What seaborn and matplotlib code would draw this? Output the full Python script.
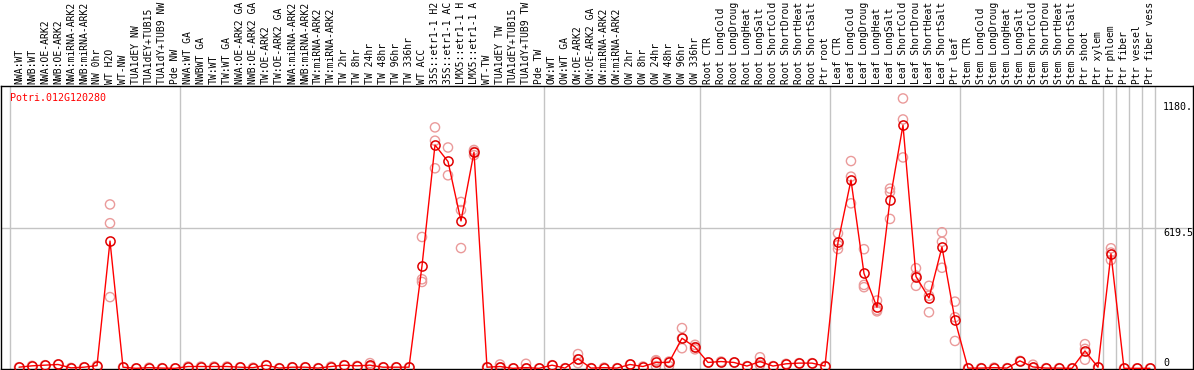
import matplotlib
matplotlib.use("Agg")
import matplotlib.pyplot as plt
import seaborn as sns
import pandas as pd

title = "Potri.012G120280"

categories = [
    "NWA:WT", "NWB:WT", "NWA:OE-ARK2", "NWB:OE-ARK2", "NWA:miRNA-ARK2", "NWB:miRNA-ARK2",
    "NW 0hr", "WT H2O", "WT-NW", "TUA1dEY NW", "TUA1dEY+TUB15", "TUA1dY+TUB9 NW", "Pde NW",
    "NWA:WT GA", "NWBWT GA", "TW:WT", "TW:WT GA", "NWA:OE-ARK2 GA", "NWB:OE-ARK2 GA",
    "TW:OE-ARK2", "TW:OE-ARK2 GA", "NWA:miRNA-ARK2", "NWB:miRNA-ARK2", "TW:miRNA-ARK2",
    "TW:miRNA-ARK2", "TW 2hr", "TW 8hr", "TW 24hr", "TW 48hr", "TW 96hr", "TW 336hr",
    "WT ACC", "35S::etr1-1 H2", "35S::etr1-1 AC", "LMX5::etr1-1 H", "LMX5::etr1-1 A",
    "WT-TW", "TUA1dEY TW", "TUA1dEY+TUB15", "TUA1dY+TUB9 TW", "Pde TW",
    "OW:WT", "OW:WT GA", "OW:OE-ARK2", "OW:OE-ARK2 GA", "OW:miRNA-ARK2", "OW:miRNA-ARK2",
    "OW 2hr", "OW 8hr", "OW 24hr", "OW 48hr", "OW 96hr", "OW 336hr",
    "Root CTR", "Root LongCold", "Root LongDroug", "Root LongHeat", "Root LongSalt",
    "Root ShortCold", "Root ShortDrou", "Root ShortHeat", "Root ShortSalt", "Ptr root",
    "Leaf CTR", "Leaf LongCold", "Leaf LongDroug", "Leaf LongHeat", "Leaf LongSalt",
    "Leaf ShortCold", "Leaf ShortDrou", "Leaf ShortHeat", "Leaf ShortSalt", "Ptr leaf",
    "Stem CTR", "Stem LongCold", "Stem LongDroug", "Stem LongHeat", "Stem LongSalt",
    "Stem ShortCold", "Stem ShortDrou", "Stem ShortHeat", "Stem ShortSalt", "Ptr shoot",
    "Ptr xylem", "Ptr phloem", "Ptr fiber", "Ptr vessel", "Ptr fiber vess",
]

means = [
    5, 11, 14, 17, 2, 5, 12, 563, 5, 0, 3, 1, 0,
    8, 8, 8, 8, 5, 3, 14, 1, 5, 5, 1, 8, 14, 11, 14, 5, 5, 5,
    453, 988, 915, 652, 956, 5, 8, 0, 3, 0,
    14, 1, 42, 1, 3, 1, 17, 8, 26, 26, 133, 94,
    26, 30, 26, 10, 30, 10, 20, 23, 23, 10,
    557, 833, 420, 270, 745, 1076, 406, 311, 537, 214,
    1, 1, 3, 1, 33, 6, 1, 1, 0, 77,
    5, 507, 0, 0, 0,
]

replicates = [
    [5], [11], [14], [17], [2], [5], [12], [725, 642, 315], [5], [0], [3], [1], [0],
    [8], [8], [8], [8], [5], [3], [14], [1], [5], [5], [1], [8], [14], [11], [23, 8, 11], [5], [5], [5],
    [581, 394, 382], [1066, 1007, 885], [977, 854], [736, 700, 532], [966, 958, 943],
    [5], [17, 4, 3], [0], [20, 0], [0],
    [14], [1], [63, 23, 40], [1], [3], [1], [17], [8], [36, 10, 32], [26, 10, 30],
    [178, 89, 133], [104, 84, 94],
    [26], [30], [26], [10], [49, 15, 26], [10], [20], [23], [23], [10],
    [597, 545, 528], [917, 848, 730], [527, 369, 359], [300, 258, 252], [795, 780, 661],
    [1194, 1101, 933], [443, 365, 410], [365, 248, 321], [602, 560, 445], [295, 226, 121],
    [1], [1], [3], [1], [33], [16, 2], [1], [1], [0], [107, 38, 86],
    [5], [531, 479, 512], [0], [0], [0],
]

axis_labels = ["1180.", "619.5", "0"]
axis_values = [1180, 619.5, 0]
group_ends = [12, 40, 52, 62, 72, 83, 84, 85, 86, 87]

idx = list(range(len(categories)))
df_mean = pd.DataFrame({"x": idx, "y": means})
rx, ry = [], []
for i, reps in enumerate(replicates):
    for v in reps:
        rx.append(i)
        ry.append(v)
df_rep = pd.DataFrame({"x": rx, "y": ry})

sns.set_theme(style="white")
plt.rcParams["font.family"] = ["DejaVu Sans Mono"]

fig = plt.figure(figsize=(11.94, 3.70), dpi=100)
ax = fig.add_axes([1 / 1194, 1 / 370, 1192 / 1194, 283 / 370])

grey = "#c4c4c4"
ax.axhline(619.5, color=grey, lw=1.0, zorder=0)
ax.axvline(-0.69, color=grey, lw=1.0, zorder=0)
for g in group_ends:
    ax.axvline(g + 0.42, color=grey, lw=1.0, zorder=0)

sns.scatterplot(data=df_rep, x="x", y="y", ax=ax, marker="o", s=44,
                facecolor="none", edgecolor="#ea9a9a", linewidth=1.0, zorder=2)
sns.lineplot(data=df_mean, x="x", y="y", ax=ax, color="red", lw=1.0,
             marker="o", markersize=6.6, markerfacecolor="none",
             markeredgecolor="#e00000", markeredgewidth=1.1, zorder=3)

ax.set_xlim(-1.385, 90.31)
ax.set_ylim(-3, 1249)
ax.set_xlabel("")
ax.set_ylabel("")
ax.set_xticks(idx)
ax.set_xticklabels(categories, rotation=90)
ax.xaxis.tick_top()
ax.tick_params(axis="x", length=0, pad=1.3, labelsize=7.0, colors="black")
ax.set_yticks([])

for s in ax.spines.values():
    s.set_color("black")
    s.set_linewidth(1.0)

for lab, val in zip(axis_labels, axis_values):
    ax.text(88.0, val, lab, ha="left", va="bottom" if val == 0 else "top",
            fontsize=7.2, color="black")

ax.text(0.0076, 0.958, title, transform=ax.transAxes, ha="left", va="center",
        fontsize=7.2, color="red")

fig.savefig("out.png", dpi=100)
